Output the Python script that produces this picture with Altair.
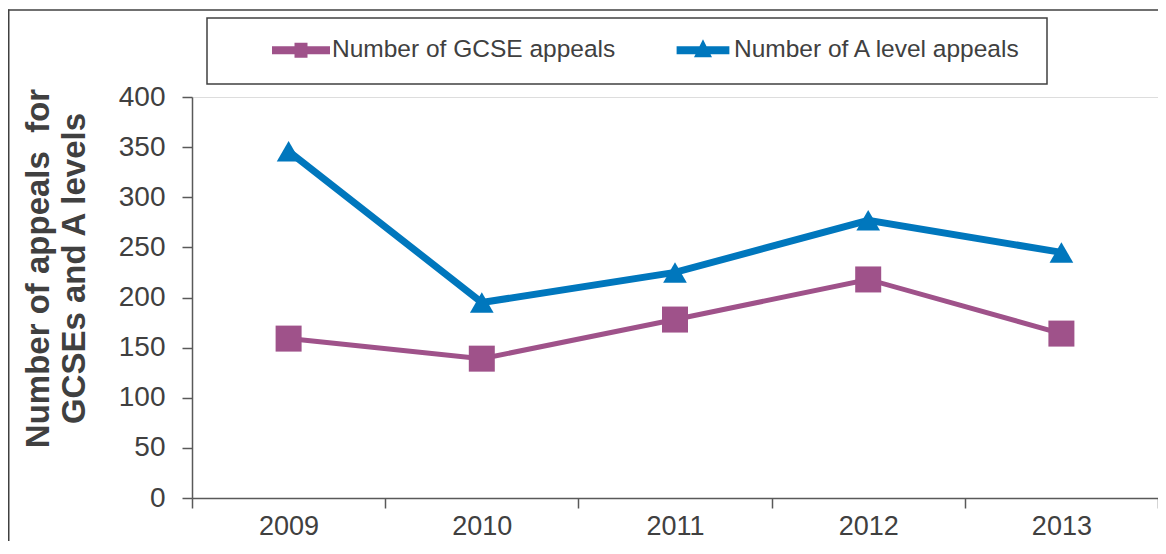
import altair as alt
import pandas as pd

years = ["2009", "2010", "2011", "2012", "2013"]
gcse = [159, 139, 178, 218, 164]
alevel = [346, 195, 225, 277, 245]
series = ["Number of GCSE appeals", "Number of A level appeals"]
colors = ["#9F528A", "#0077BD"]
y_ticks = [0, 50, 100, 150, 200, 250, 300, 350, 400]
y_title = ["Number of appeals \u00a0for", "GCSEs and A levels"]

rows = []
for yr, g, a in zip(years, gcse, alevel):
    rows.append({"year": yr, "series": series[0], "value": g})
    rows.append({"year": yr, "series": series[1], "value": a})
df = pd.DataFrame(rows)

FONT = "Liberation Sans"
TXT = "#404040"
AX = "#595959"

x_enc = alt.X(
    "year:N", sort=years,
    scale=alt.Scale(type="band", paddingInner=0, paddingOuter=0),
    axis=alt.Axis(title=None, labelAngle=0, tickBand="extent", tickSize=10,
                  domainColor=AX, tickColor=AX, domainWidth=1.5, tickWidth=1.5,
                  labelFontSize=27, labelColor=TXT, labelFont=FONT, labelPadding=5),
)
y_enc = alt.Y(
    "value:Q",
    scale=alt.Scale(domain=[0, 400], nice=False),
    axis=alt.Axis(values=y_ticks, grid=False, title=y_title, tickSize=10,
                  domainColor=AX, tickColor=AX, domainWidth=1.5, tickWidth=1.5,
                  labelFontSize=28, labelColor=TXT, labelFont=FONT, labelPadding=17,
                  titleFontSize=33, titleFontWeight="bold", titleColor=TXT, titleFont=FONT,
                  titleLineHeight=36, titleAngle=270, titleAlign="center",
                  titleBaseline="middle", titleX=-154, titleY=171),
)
color_scale = alt.Scale(domain=series, range=colors)

one = alt.Data(values=[{}])
frame_top = alt.Chart(one).mark_rule(color="#404040", strokeWidth=1.5).encode(
    x=alt.value(-184), x2=alt.value(970), y=alt.value(-87))
frame_left = alt.Chart(one).mark_rule(color="#404040", strokeWidth=1.5).encode(
    x=alt.value(-183.25), y=alt.value(-87.5), y2=alt.value(460))

legend_box = alt.Chart(one).mark_rect(
    fillOpacity=0, stroke="#404040", strokeWidth=1.5
).encode(x=alt.value(15), x2=alt.value(855), y=alt.value(-79), y2=alt.value(-13))

lines = alt.Chart(df).mark_line().encode(
    x=x_enc, y=y_enc,
    color=alt.Color("series:N", scale=color_scale, legend=None),
    strokeWidth=alt.StrokeWidth("series:N", scale=alt.Scale(domain=series, range=[5, 7]), legend=None),
)

squares = alt.Chart(df).transform_filter(alt.datum.series == series[0]).mark_point(
    shape="square", filled=True, size=676, opacity=1
).encode(x=x_enc, y=y_enc, color=alt.Color("series:N", scale=color_scale, legend=None))

triangles = alt.Chart(df).transform_filter(alt.datum.series == series[1]).mark_point(
    shape="triangle-up", filled=True, size=560, opacity=1
).encode(x=x_enc, y=y_enc, color=alt.Color("series:N", scale=color_scale, legend=None))

sym_gcse = "M-1,-0.138H1V0.138H-1Z M-0.224,-0.26H0.224V0.26H-0.224Z"
sym_alev = "M-0.91,-0.138H0.91V0.138H-0.91Z M0,-0.38L0.31,0.24L-0.31,0.24Z"

leg = dict(orient="none", legendX=80, legendY=-76, direction="horizontal",
           labelFontSize=24.5, labelColor=TXT, labelFont=FONT, symbolSize=3364,
           symbolStrokeWidth=0, labelOffset=2, columnPadding=58, padding=0,
           labelLimit=500)

legend_layer = alt.Chart(df).transform_filter(alt.datum.value < 0).mark_point(filled=True, opacity=1).encode(
    x=x_enc, y=y_enc,
    color=alt.Color("series:N", scale=color_scale, title=None, legend=alt.Legend(**leg)),
    shape=alt.Shape("series:N", scale=alt.Scale(domain=series, range=[sym_gcse, sym_alev]),
                    title=None, legend=alt.Legend(**leg)),
)

chart = alt.layer(frame_top, frame_left, legend_box, lines, squares, triangles, legend_layer).resolve_legend(
    color="independent", shape="independent", strokeWidth="independent"
).properties(
    width=966, height=401,
    autosize=alt.AutoSizeParams(type="none"),
    padding={"left": 184, "top": 89, "right": 0, "bottom": 43},
).configure_view(stroke=None).configure(font=FONT)

chart.save("out.html", embed_options={"renderer": "svg", "actions": False})
